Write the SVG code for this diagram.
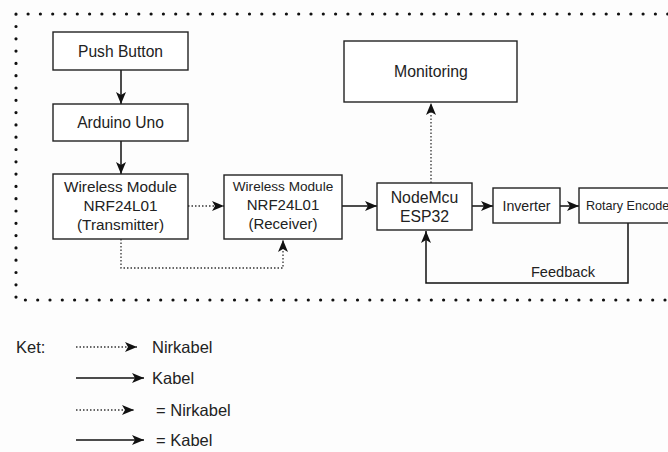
<svg xmlns="http://www.w3.org/2000/svg" width="668" height="452" viewBox="0 0 668 452">
<style>
.box{fill:#fff;stroke:#222;stroke-width:1.4}
.t{font-family:"Liberation Sans",Arial,sans-serif;fill:#222;text-anchor:middle}
.lt{font-family:"Liberation Sans",Arial,sans-serif;fill:#222;font-size:16.5px}
.solid{fill:none;stroke:#111;stroke-width:1.5}
.dot{fill:none;stroke:#333;stroke-width:1.3;stroke-dasharray:1.5 2}
.border{fill:none;stroke:#111;stroke-width:3.2;stroke-linecap:round;stroke-dasharray:0 12.3}
</style>
<defs>
<marker id="ah" viewBox="0 0 12 10" refX="12" refY="5" markerWidth="12" markerHeight="10" markerUnits="userSpaceOnUse" orient="auto">
<path d="M0,0 L12,5 L0,10 L3,5 Z" fill="#111"/>
</marker>
</defs>
<rect width="668" height="452" fill="#fdfdfd"/>
<path class="border" d="M680,14 L16,14 L16,300 L680,300"/>
<g id="connectors">
<path class="solid" d="M121,70 L121,104" marker-end="url(#ah)"/>
<path class="solid" d="M121,141 L121,174" marker-end="url(#ah)"/>
<path class="dot" d="M188,206 L224,206" marker-end="url(#ah)"/>
<path class="dot" d="M121,239 L121,268 L283,268 L283,240" marker-end="url(#ah)"/>
<path class="solid" d="M342,206 L377,206" marker-end="url(#ah)"/>
<path class="dot" d="M431,183 L431,103" marker-end="url(#ah)"/>
<path class="solid" d="M472,206 L493,206" marker-end="url(#ah)"/>
<path class="solid" d="M560,206 L579,206" marker-end="url(#ah)"/>
<path class="solid" d="M628,223 L628,283 L426,283 L426,231" marker-end="url(#ah)"/>
<text class="t" x="563" y="277" font-size="14.6">Feedback</text>
</g>
<g id="push-button"><rect class="box" x="53" y="32" width="135" height="38"/><text class="t" x="120.5" y="56.5" font-size="15.6">Push Button</text></g>
<g id="arduino-uno"><rect class="box" x="53" y="104" width="135" height="37"/><text class="t" x="120.5" y="128" font-size="15.6">Arduino Uno</text></g>
<g id="transmitter"><rect class="box" x="53" y="174" width="135" height="65"/>
<text class="t" x="120.5" y="192" font-size="15.3">Wireless Module</text>
<text class="t" x="120.5" y="211" font-size="15.3">NRF24L01</text>
<text class="t" x="120.5" y="230" font-size="15.3">(Transmitter)</text></g>
<g id="receiver"><rect class="box" x="224" y="175" width="118" height="64"/>
<text class="t" x="283" y="191" font-size="13.6">Wireless Module</text>
<text class="t" x="283" y="210" font-size="15">NRF24L01</text>
<text class="t" x="283" y="229" font-size="15">(Receiver)</text></g>
<g id="monitoring"><rect class="box" x="344" y="41" width="173" height="61"/><text class="t" x="431" y="77" font-size="15.8">Monitoring</text></g>
<g id="nodemcu"><rect class="box" x="377" y="183" width="95" height="47"/>
<text class="t" x="424.5" y="203" font-size="15.8">NodeMcu</text>
<text class="t" x="424.5" y="222" font-size="15.8">ESP32</text></g>
<g id="inverter"><rect class="box" x="493" y="188" width="67" height="35"/><text class="t" x="526.5" y="210.5" font-size="14.2">Inverter</text></g>
<g id="rotary-encoder"><rect class="box" x="579" y="188" width="100" height="35"/><text x="586" y="210" font-size="12.6" font-family="Liberation Sans,Arial,sans-serif" fill="#222">Rotary Encoder</text></g>
<g id="legend">
<text class="lt" x="16" y="353">Ket:</text>
<path class="dot" d="M76,347 L137,347" marker-end="url(#ah)"/>
<text class="lt" x="152" y="353">Nirkabel</text>
<path class="solid" d="M76,378 L144,378" marker-end="url(#ah)"/>
<text class="lt" x="152" y="384">Kabel</text>
<path class="dot" d="M76,410 L134,410" marker-end="url(#ah)"/>
<text class="lt" x="156" y="416">= Nirkabel</text>
<path class="solid" d="M76,440 L144,440" marker-end="url(#ah)"/>
<text class="lt" x="156" y="446">= Kabel</text>
</g>
</svg>
